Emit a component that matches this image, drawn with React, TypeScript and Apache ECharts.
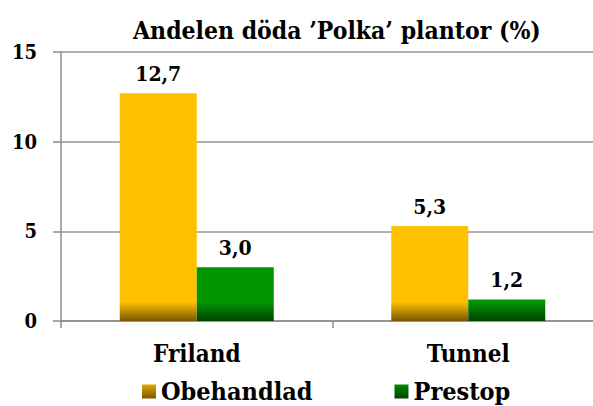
import React, { useEffect, useRef } from "react";
import * as echarts from "echarts";

const categories = ["Friland", "Tunnel"];
const seriesNames = ["Obehandlad", "Prestop"];
const obehandlad = [12.7, 5.3];
const prestop = [3.0, 1.2];
const yTicks = { min: 0, max: 15, interval: 5 };
const titleText = "Andelen döda ’Polka’ plantor (%)";

const FONT = "'DejaVu Serif Condensed', 'DejaVu Serif', serif";

export default function App() {
  const ref = useRef<HTMLDivElement>(null);
  useEffect(() => {
    if (!ref.current) return;
    const chart = echarts.init(ref.current, null, { renderer: "svg" });
    const barGrad = (main: string, dark: string) =>
      new echarts.graphic.LinearGradient(
        0, 302, 0, 321,
        [
          { offset: 0, color: main },
          { offset: 1, color: dark },
        ],
        true
      );
    const iconGrad = (main: string, dark: string) =>
      new echarts.graphic.LinearGradient(0, 0, 0, 1, [
        { offset: 0, color: main },
        { offset: 1, color: dark },
      ]);
    const yellow = "#FFC000";
    const yellowDark = "#7A5800";
    const green = "#009600";
    const greenDark = "#004400";
    const labelStyle = {
      show: true,
      position: "top",
      distance: 9,
      fontFamily: FONT,
      fontWeight: "bold",
      fontSize: 21,
      color: "#000",
      formatter: (p: any) => p.value.toFixed(1).replace(".", ","),
    };
    chart.setOption({
      animation: false,
      title: {
        text: titleText,
        left: 128,
        top: 13,
        textStyle: { fontFamily: FONT, fontWeight: "bold", fontSize: 24.5, color: "#000" },
      },
      legend: {
        top: 379,
        left: 142,
        padding: 0,
        itemWidth: 14,
        itemHeight: 14,
        itemGap: 82,
        textStyle: {
          fontFamily: FONT,
          fontWeight: "bold",
          fontSize: 25,
          lineHeight: 24,
          color: "#000",
        },
        data: [
          { name: seriesNames[0], icon: "rect", itemStyle: { color: iconGrad("#E0A800", "#7A5800") } },
          { name: seriesNames[1], icon: "rect", itemStyle: { color: iconGrad("#008A00", "#004400") } },
        ],
      },
      grid: {
        left: 61,
        top: 52,
        width: 543,
        height: 269,
        containLabel: false,
        outerBoundsMode: "none",
      },
      xAxis: {
        type: "category",
        data: categories,
        axisLine: { show: true, lineStyle: { color: "#8C8C8C", width: 1.5 } },
        axisTick: { show: true, length: 7, lineStyle: { color: "#8C8C8C", width: 1.5 } },
        axisLabel: { margin: 20, fontFamily: FONT, fontWeight: "bold", fontSize: 24, color: "#000" },
      },
      yAxis: {
        type: "value",
        min: yTicks.min,
        max: yTicks.max,
        interval: yTicks.interval,
        axisLine: { show: true, lineStyle: { color: "#8C8C8C", width: 1.5 } },
        axisTick: { show: true, length: 8, lineStyle: { color: "#8C8C8C", width: 1.5 } },
        splitLine: { show: true, lineStyle: { color: "#969696", width: 1.5 } },
        axisLabel: { margin: 24, fontFamily: FONT, fontWeight: "bold", fontSize: 20, color: "#000" },
      },
      series: [
        {
          name: seriesNames[0],
          type: "bar",
          data: obehandlad,
          barWidth: 77,
          barGap: "0%",
          itemStyle: { color: barGrad(yellow, yellowDark) },
          label: labelStyle,
        },
        {
          name: seriesNames[1],
          type: "bar",
          data: prestop,
          barWidth: 77,
          barGap: "0%",
          itemStyle: { color: barGrad(green, greenDark) },
          label: labelStyle,
        },
      ],
    });
    return () => chart.dispose();
  }, []);
  return (
    <div
      ref={ref}
      style={{ position: "absolute", left: 0, top: 0, width: 593, height: 406 }}
    />
  );
}
